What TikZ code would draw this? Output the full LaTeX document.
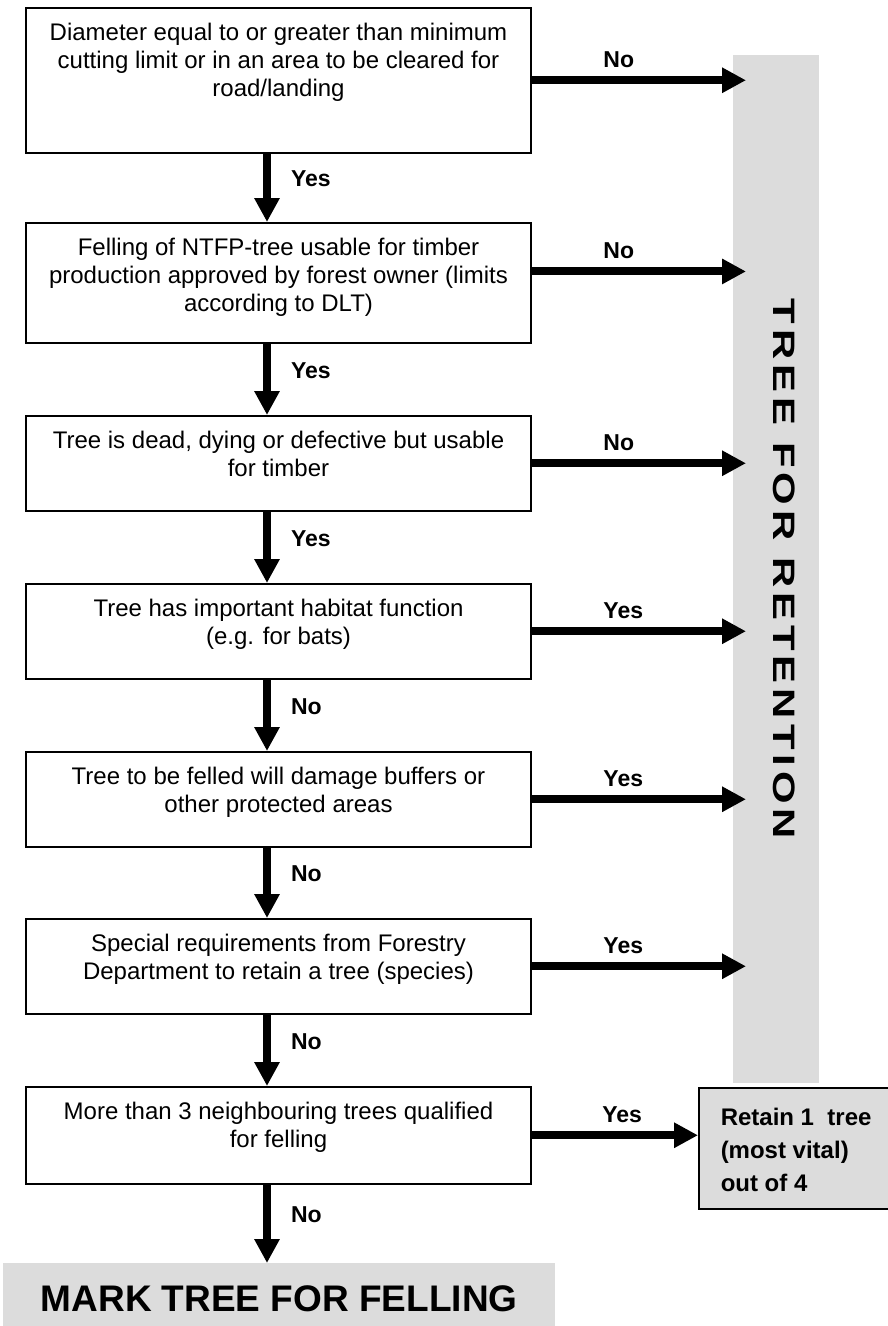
\documentclass[tikz,border=0pt]{standalone}
\usepackage{fontspec}
\setmainfont{Liberation Sans}
\newfontfamily\spacedfont{Liberation Sans}[LetterSpace=12]
\usetikzlibrary{arrows.meta,positioning}
\definecolor{boxgray}{RGB}{220,220,220}

\tikzset{
  qbox/.style={draw, line width=1.5pt, inner xsep=0pt, inner ysep=13pt, anchor=north,
    font=\fontsize{24}{28}\selectfont},
  flow/.style={line width=8pt, -{Triangle[width=24pt,length=24pt]}},
  vlbl/.style={font=\bfseries\fontsize{23}{27}\selectfont, inner sep=0pt, anchor=west, xshift=20pt, yshift=9pt},
  hlbl/.style={font=\bfseries\fontsize{23}{27}\selectfont, inner sep=0pt, anchor=base west, yshift=13pt},
}
% box text: height of the text area, then the lines
\newcommand{\qtext}[2]{\parbox[c][#1][t]{505pt}{\centering\strut #2}}

\begin{document}
\begin{tikzpicture}[x=1pt,y=-1pt]
\useasboundingbox (0,0) rectangle (888,1326);
% column of questions
\node[qbox] (d1) at (278.5,7) {\qtext{119pt}{Diameter equal to or greater than minimum\\cutting limit or in an area to be cleared for\\road/landing}};
\node[qbox] (d2) at (278.5,222) {\qtext{94pt}{Felling of NTFP-tree usable for timber\\production approved by forest owner (limits\\according to DLT)}};
\node[qbox] (d3) at (278.5,415) {\qtext{69pt}{Tree is dead, dying or defective but usable\\for timber}};
\node[qbox] (d4) at (278.5,583) {\qtext{69pt}{Tree has important habitat function\\(e.g. for bats)}};
\node[qbox] (d5) at (278.5,751) {\qtext{69pt}{Tree to be felled will damage buffers or\\other protected areas}};
\node[qbox] (d6) at (278.5,918) {\qtext{69pt}{Special requirements from Forestry\\Department to retain a tree (species)}};
\node[qbox] (d7) at (278.5,1086) {\qtext{71pt}{More than 3 neighbouring trees qualified\\for felling}};
% retention bar
\node[fill=boxgray, minimum width=86pt, minimum height=1028pt, inner sep=0pt, anchor=north west] (bar) at (733,55) {};
\node[rotate=-90, xscale=1.35, font=\spacedfont\bfseries\fontsize{31}{36}\selectfont] (bartext) at (784,569) {TREE FOR RETENTION};
% retain box
\node[draw, fill=boxgray, line width=1.5pt, inner xsep=22pt, inner ysep=15pt, anchor=north west,
  font=\bfseries\fontsize{24}{33}\selectfont] (retain) at (698,1087)
  {\parbox[c][91pt][t]{170pt}{\raggedright\strut Retain 1\ \ tree\\(most vital)\\out of 4}};
% final box
\node[fill=boxgray, minimum width=552pt, minimum height=71pt, inner sep=0pt, anchor=north west,
  font=\bfseries\fontsize{37}{44}\selectfont] (mark) at (3,1263) {MARK TREE FOR FELLING};
% arrow column and arrow tips
\coordinate (colx) at (267,0);
\coordinate (tip) at (746,0);
% vertical arrows
\draw[flow] (d1.south -| colx) -- (d2.north -| colx) node[vlbl, midway] (y1) {Yes};
\draw[flow] (d2.south -| colx) -- (d3.north -| colx) node[vlbl, midway] (y2) {Yes};
\draw[flow] (d3.south -| colx) -- (d4.north -| colx) node[vlbl, midway] (y3) {Yes};
\draw[flow] (d4.south -| colx) -- (d5.north -| colx) node[vlbl, midway] (n4) {No};
\draw[flow] (d5.south -| colx) -- (d6.north -| colx) node[vlbl, midway] (n5) {No};
\draw[flow] (d6.south -| colx) -- (d7.north -| colx) node[vlbl, midway] (n6) {No};
\draw[flow] (d7.south -| colx) -- (mark.north -| colx) node[vlbl, midway] (n7) {No};
% horizontal arrows
\draw[flow] (d1.east) -- (d1.east -| tip) node[hlbl, pos=0.316] (n1) {No};
\draw[flow] ([yshift=11.3pt]d2.east) -- ([yshift=11.3pt]d2.east -| tip) node[hlbl, pos=0.316] (n2) {No};
\draw[flow] (d3.east) -- (d3.east -| tip) node[hlbl, pos=0.316] (n3) {No};
\draw[flow] (d4.east) -- (d4.east -| tip) node[hlbl, pos=0.316] (y4) {Yes};
\draw[flow] (d5.east) -- (d5.east -| tip) node[hlbl, pos=0.316] (y5) {Yes};
\draw[flow] (d6.east) -- (d6.east -| tip) node[hlbl, pos=0.316] (y6) {Yes};
\draw[flow] (d7.east) -- (d7.east -| retain.west) node[hlbl, pos=0.40] (y7) {Yes};
\end{tikzpicture}
\end{document}
